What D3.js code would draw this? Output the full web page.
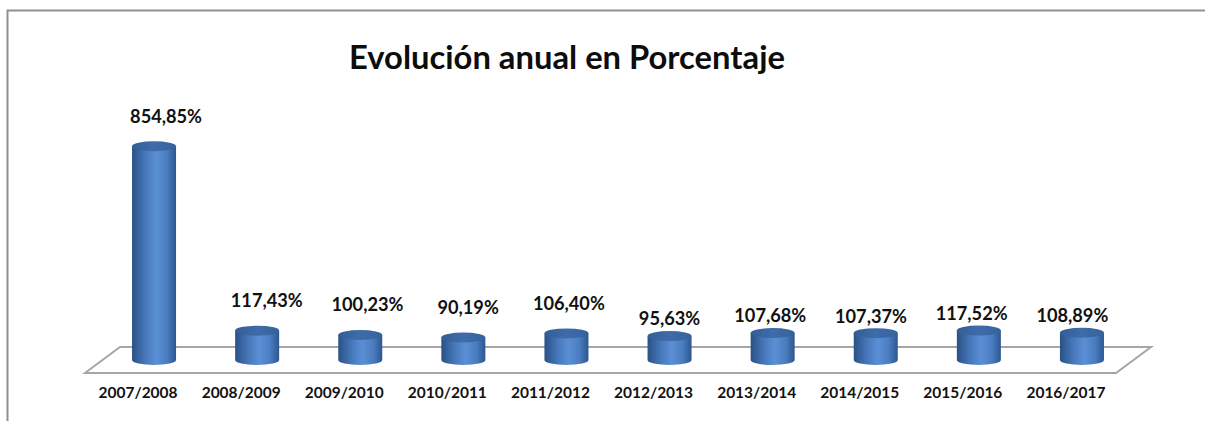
<!DOCTYPE html>
<html><head><meta charset="utf-8">
<script src="https://cdn.jsdelivr.net/npm/d3@7"></script>
<style>html,body{margin:0;padding:0;background:#fff;overflow:hidden}</style>
</head><body>
<svg id="c" width="1205" height="421"></svg>
<script>
const categories = ["2007/2008","2008/2009","2009/2010","2010/2011","2011/2012","2012/2013","2013/2014","2014/2015","2015/2016","2016/2017"];
const values = [854.85,117.43,100.23,90.19,106.40,95.63,107.68,107.37,117.52,108.89];
const valueLabels = ["854,85%","117,43%","100,23%","90,19%","106,40%","95,63%","107,68%","107,37%","117,52%","108,89%"];
const title = "Evolución anual en Porcentaje";

const svg = d3.select("#c");
const FONT = "Lato, 'Open Sans', sans-serif";

// frame lines
svg.append("path").attr("d","M7.5,421 L7.5,10.5 L1205,10.5")
  .attr("fill","none").attr("stroke","#8f8f8f").attr("stroke-width",2);

const defs = svg.append("defs");
const g1 = defs.append("linearGradient").attr("id","body").attr("x1","0").attr("x2","1").attr("y1","0").attr("y2","0");
[["0%","#2a5185"],["30%","#4677ba"],["55%","#5b8fd5"],["80%","#4a7cc0"],["100%","#2c5690"]]
  .forEach(([o,c])=>g1.append("stop").attr("offset",o).attr("stop-color",c));
const g2 = defs.append("linearGradient").attr("id","top").attr("x1","0").attr("x2","1").attr("y1","0").attr("y2","0");
[["0%","#335d96"],["50%","#3f6ca9"],["100%","#36629c"]]
  .forEach(([o,c])=>g2.append("stop").attr("offset",o).attr("stop-color",c));

// geometry
const frontY = 373, backY = 347, depthX = 35;
const baseY = (frontY + backY) / 2;
const x = d3.scaleBand().domain(categories).range([85, 1116]).padding(0);
const y = d3.scaleLinear().domain([0, 900]).range([baseY, baseY - 225]);
const rx = 22, ry = 5;

// floor
const x0 = x.range()[0], x1 = x.range()[1];
svg.append("path")
  .attr("d", `M${x0},${frontY} L${x0+depthX},${backY} L${x1+depthX},${backY} L${x1},${frontY} Z`)
  .attr("fill","#fff").attr("stroke","#a6a6a6").attr("stroke-width",2);

// cylinders
const bars = svg.append("g").selectAll("g").data(values).join("g");
bars.each(function(v,i){
  const cx = x(categories[i]) + x.bandwidth()/2 + depthX/2;
  const yt = y(v);
  const g = d3.select(this);
  g.append("path")
    .attr("d", `M${cx-rx},${yt} L${cx-rx},${baseY} A${rx},${ry} 0 0 0 ${cx+rx},${baseY} L${cx+rx},${yt} Z`)
    .attr("fill","url(#body)");
  g.append("ellipse").attr("cx",cx).attr("cy",yt).attr("rx",rx).attr("ry",ry)
    .attr("fill","url(#top)");
});

// value labels
const vl = svg.append("g").selectAll("text").data(valueLabels).join("text")
  .attr("x",(d,i)=> x(categories[i]) + x.bandwidth()/2 + depthX/2 + (12 - 2.4*i))
  .attr("y",(d,i)=> y(values[i]) - ry - (i < categories.length/2 ? 25 : 12))
  .attr("dy","0.35em")
  .attr("text-anchor","middle")
  .attr("font-family",FONT).attr("font-weight",700).attr("font-size",16)
  .attr("fill","#111").text(d=>d);

// category labels
const cl = svg.append("g").selectAll("text").data(categories).join("text")
  .attr("x",d=> x(d) + x.bandwidth()/2 + 1.5)
  .attr("y",393).attr("dy","0.35em")
  .attr("text-anchor","middle")
  .attr("font-family",FONT).attr("font-weight",700).attr("font-size",14)
  .attr("fill","#111").text(d=>d);

// title
const tt = svg.append("text").attr("x",567).attr("y",69)
  .attr("text-anchor","middle")
  .attr("font-family",FONT).attr("font-weight",700).attr("font-size",28)
  .attr("fill","#0d0d0d").text(title);

// fit sizes to reference widths
function fit(sel, refNode, target){
  const w = refNode.getComputedTextLength();
  const fs = parseFloat(d3.select(refNode).attr("font-size"));
  sel.attr("font-size", fs * target / w);
}
fit(vl, vl.nodes()[0], 72);
fit(cl, cl.nodes()[0], 79);
fit(tt, tt.node(), 436);
</script>
</body></html>
